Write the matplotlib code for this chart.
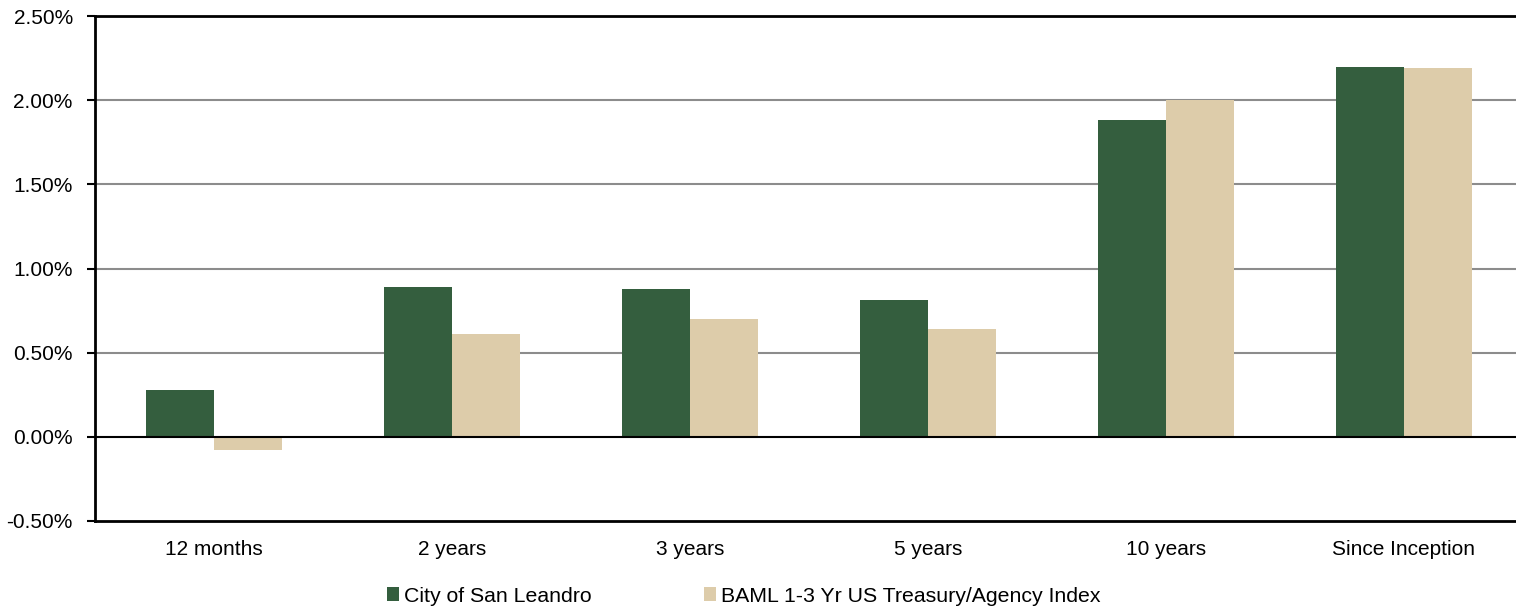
import matplotlib
matplotlib.use('Agg')
import matplotlib.pyplot as plt
from matplotlib.ticker import FuncFormatter
import numpy as np

plt.rcParams['font.family'] = ['Liberation Sans', 'DejaVu Sans']

# data (percent)
periods = ['12 months', '2 years', '3 years', '5 years', '10 years', 'Since Inception']
city = [0.28, 0.89, 0.88, 0.81, 1.88, 2.20]
baml = [-0.08, 0.61, 0.70, 0.64, 2.00, 2.19]
series_names = ['City of San Leandro', 'BAML 1-3 Yr US Treasury/Agency Index']

GREEN = '#345E3E'
TAN = '#DDCCAA'

fig = plt.figure(figsize=(15.16, 6.09), dpi=100)
ax = fig.add_axes([95 / 1516, 88 / 609, 1428 / 1516, 505 / 609])

x = np.arange(len(periods))
w = 0.286
b1 = ax.bar(x - w / 2, city, w, color=GREEN, label=series_names[0], zorder=3)
b2 = ax.bar(x + w / 2, baml, w, color=TAN, label=series_names[1], zorder=3)

ax.set_xlim(-0.5, len(periods) - 0.5)
ax.set_ylim(-0.5, 2.5)
ax.set_yticks(np.arange(-0.5, 2.51, 0.5))
ax.yaxis.set_major_formatter(FuncFormatter(lambda v, p: '%.2f%%' % v))
ax.set_xticks(x)
ax.set_xticklabels(periods)

# gridlines
for v in [0.5, 1.0, 1.5, 2.0]:
    ax.axhline(v, color='#8c8c8c', lw=1.5, zorder=1)
ax.axhline(0, color='black', lw=1.5, zorder=4)

for s in ['left', 'bottom', 'top', 'right']:
    ax.spines[s].set_linewidth(2)
    ax.spines[s].set_color('black')

ax.tick_params(axis='y', labelsize=15, length=6, width=1.5, pad=10, colors='black')
ax.tick_params(axis='x', labelsize=15, length=0, pad=14)

fig.legend(handles=[b1, b2], loc='center', bbox_to_anchor=(744 / 1516, 13 / 609),
           ncol=2, frameon=False, fontsize=15.3, handlelength=0.55, handleheight=0.6,
           handletextpad=0.25, columnspacing=5.3, borderpad=0)

fig.savefig('out.png', dpi=100)
